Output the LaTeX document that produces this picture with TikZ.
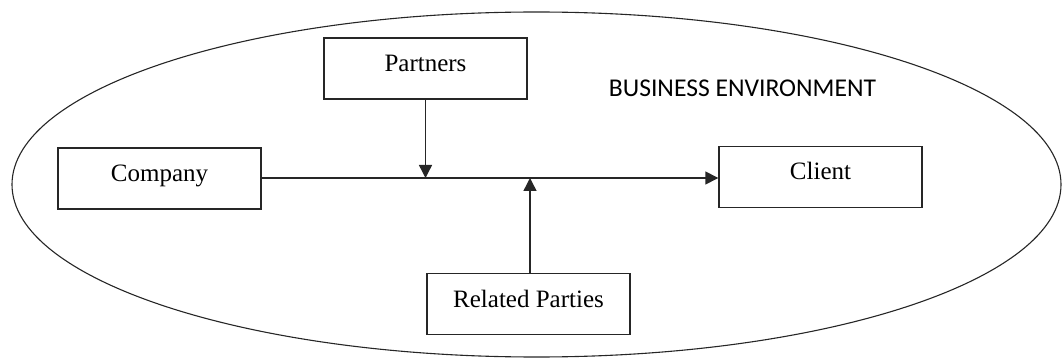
\documentclass[tikz,border=0pt]{standalone}
\usepackage{fontspec}
\setmainfont{Liberation Serif}
\newfontfamily\envfont{Carlito}
\usetikzlibrary{arrows.meta}
\begin{document}
\begin{tikzpicture}[x=1pt,y=-1pt,
  box/.style={draw=black!85,line width=1.4pt,minimum width=203pt,minimum height=61pt,inner sep=0pt,
    font=\fontsize{25}{30}\selectfont,text height=17pt,text depth=11pt},
  conn/.style={draw=black!85,line width=1.4pt,-{Triangle[length=13pt,width=13pt]}}]
\useasboundingbox (0,0) rectangle (1062,358);
\draw[line width=1.1pt,black!85] (536.5,184.5) ellipse [x radius=524.5pt, y radius=172.5pt];
\node[box] (company) at (159.5,178.5) {Company};
\node[box] (client) at (820.5,177) {Client};
\node[box] (partners) at (425.5,68.5) {Partners};
\node[box] (related) at (528.5,304) {Related Parties};
\node[anchor=base,inner sep=0pt,font=\envfont\fontsize{25.6}{30}\selectfont] (env) at (742.5,97) {BUSINESS ENVIRONMENT};
\coordinate (pj) at (425.5,178);
\coordinate (rj) at (530,178);
\draw[conn] (company.east |- pj) -- (client.west |- pj);
\draw[conn] (partners.south) -- (pj);
\draw[conn] (rj |- related.north) -- (rj);
\end{tikzpicture}
\end{document}
